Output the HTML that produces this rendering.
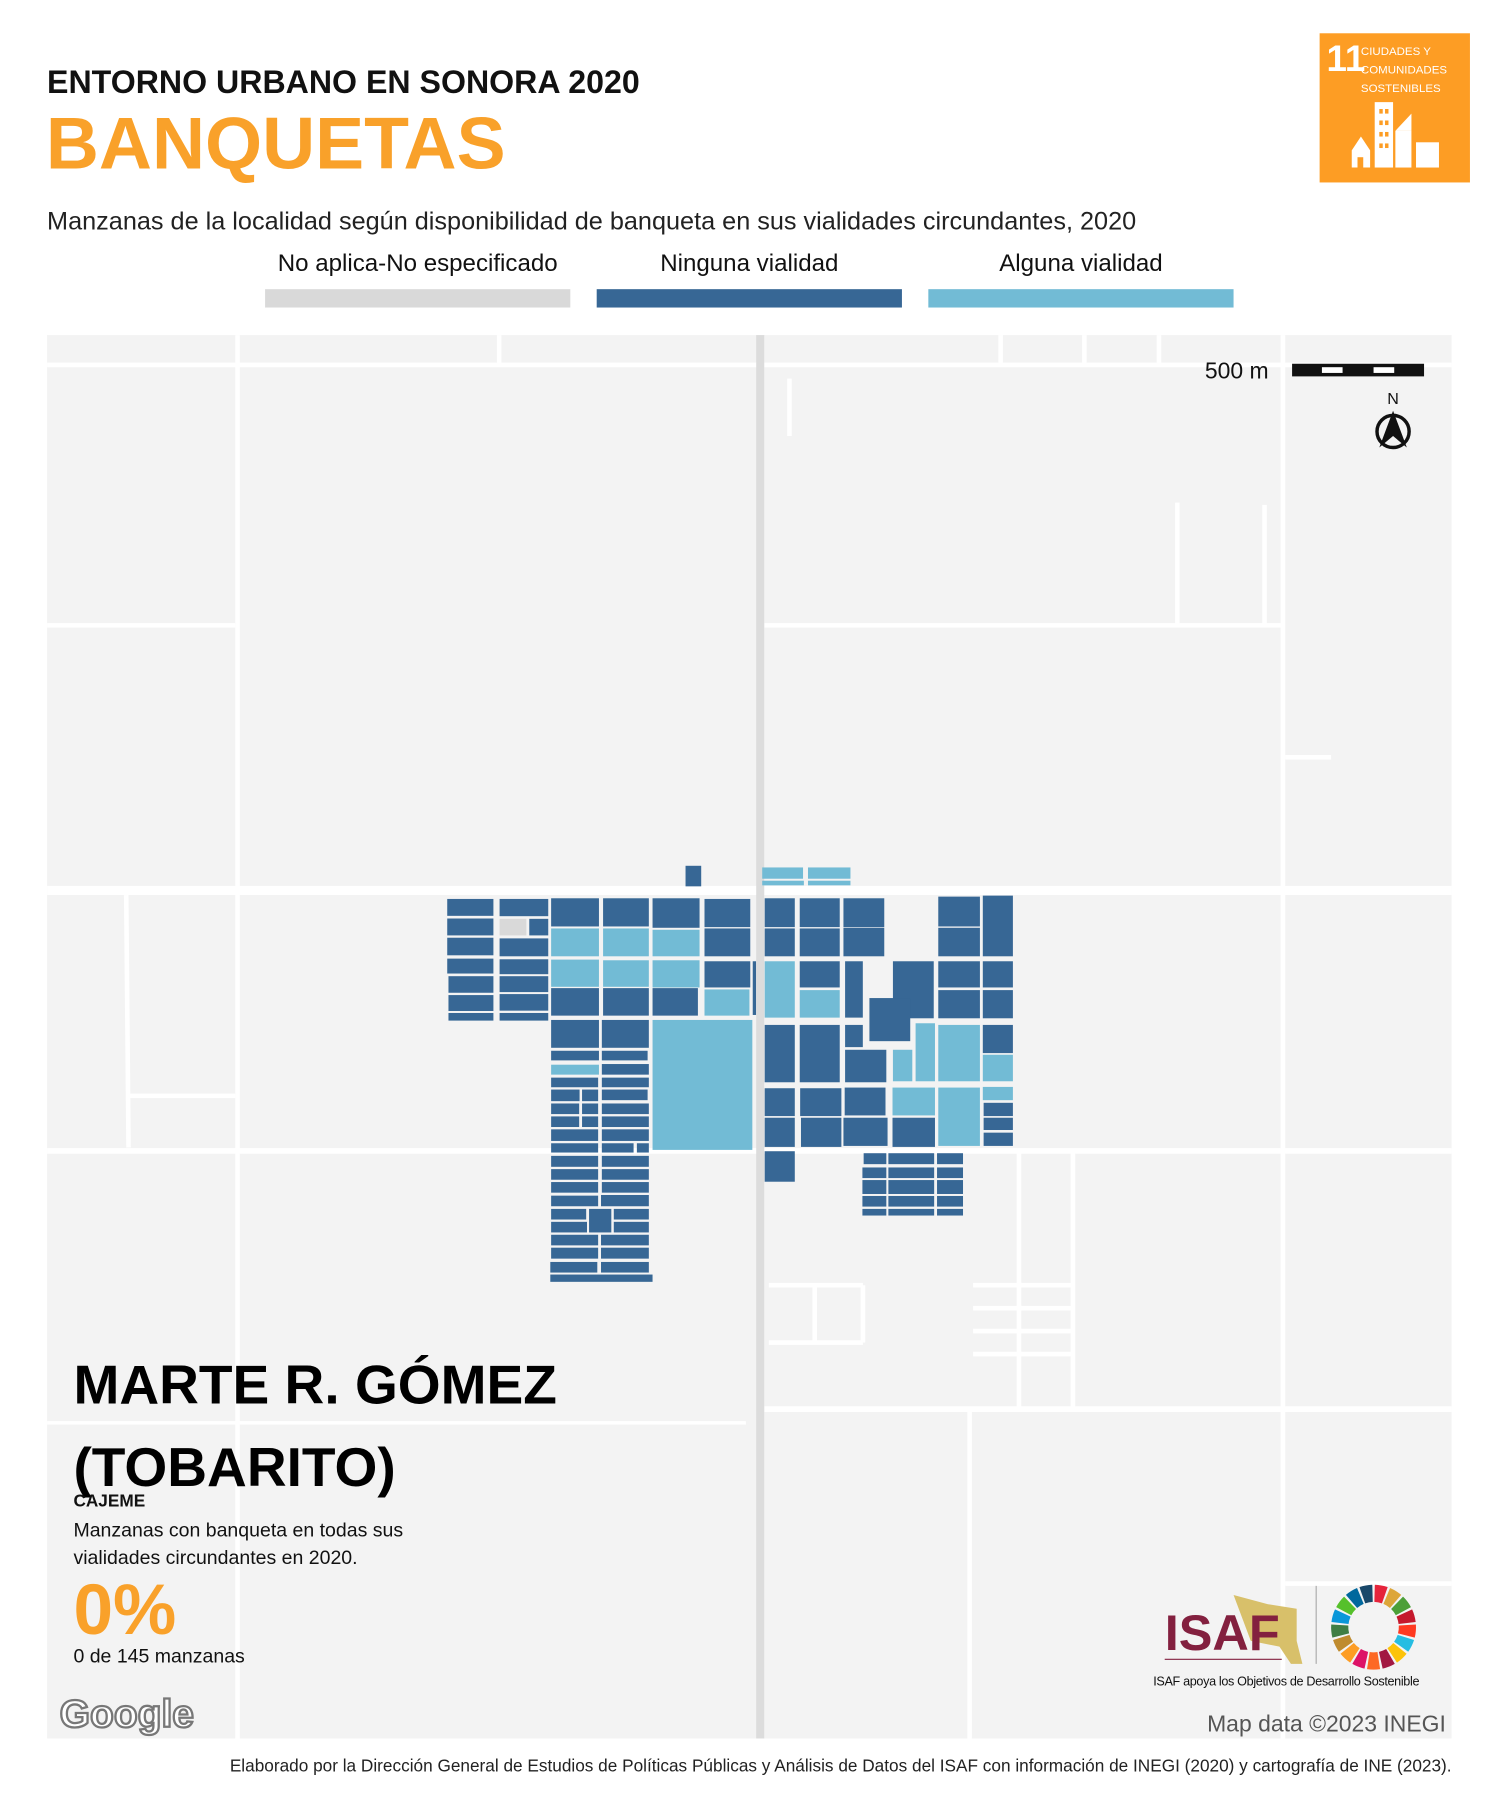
<!DOCTYPE html>
<html><head><meta charset="utf-8"><style>
html,body{margin:0;padding:0;background:#fff;overflow:hidden}
#page{position:absolute;left:0;top:0;width:1300px;height:1560px;transform:scale(1.1475);transform-origin:0 0;font-family:"Liberation Sans",sans-serif}
.t{position:absolute;white-space:nowrap}
</style></head><body>
<div id="page">
<div class="t" style="left:41px;top:56px;font-size:28px;font-weight:900;letter-spacing:0px;color:#111">ENTORNO URBANO EN SONORA 2020</div>
<div class="t" style="left:40px;top:88px;font-size:64px;font-weight:900;color:#f9a12a;letter-spacing:0px">BANQUETAS</div>
<div class="t" style="left:41px;top:180px;font-size:22px;color:#222;letter-spacing:0px">Manzanas de la localidad según disponibilidad de banqueta en sus vialidades circundantes, 2020</div>
<div style="position:absolute;left:1150px;top:29px;width:131px;height:130px;background:#fd9d24">
 <div class="t" style="left:6px;top:4px;color:#fff;font-size:32px;font-weight:bold;font-family:'Liberation Sans Narrow','Liberation Sans',sans-serif">11</div>
 <div class="t" style="left:36px;top:9px;color:#fff;font-size:10px;line-height:16px;font-family:'Liberation Sans Narrow','Liberation Sans',sans-serif">CIUDADES Y<br>COMUNIDADES<br>SOSTENIBLES</div>
 <svg style="position:absolute;left:0;top:0" width="131" height="130"><g fill="#fff"><rect x="48" y="60" width="16" height="57"/><rect x="66" y="85" width="14" height="32"/><path d="M66 85 L80 70 L80 85Z"/><rect x="84" y="95" width="20" height="22"/><path d="M28 117 V102 L36 90 L44 102 V117Z"/></g><g fill="#fd9d24"><rect x="52" y="66" width="3" height="4"/><rect x="57" y="66" width="3" height="4"/><rect x="52" y="76" width="3" height="4"/><rect x="57" y="76" width="3" height="4"/><rect x="52" y="86" width="3" height="4"/><rect x="57" y="86" width="3" height="4"/><rect x="52" y="96" width="3" height="4"/><rect x="57" y="96" width="3" height="4"/><rect x="33" y="108" width="5" height="9"/></g></svg>
</div>
<div class="t" style="left:231px;width:266px;text-align:center;top:218px;font-size:21px;font-family:'Liberation Sans Narrow','Liberation Sans',sans-serif;color:#111">No aplica-No especificado</div>
<div class="t" style="left:520px;width:266px;text-align:center;top:218px;font-size:21px;font-family:'Liberation Sans Narrow','Liberation Sans',sans-serif;color:#111">Ninguna vialidad</div>
<div class="t" style="left:809px;width:266px;text-align:center;top:218px;font-size:21px;font-family:'Liberation Sans Narrow','Liberation Sans',sans-serif;color:#111">Alguna vialidad</div>
<div style="position:absolute;left:231px;top:252px;width:266px;height:16px;background:#d9d9d9"></div>
<div style="position:absolute;left:520px;top:252px;width:266px;height:16px;background:#376795"></div>
<div style="position:absolute;left:809px;top:252px;width:266px;height:16px;background:#72bbd5"></div>

<svg id="map" style="position:absolute;left:0;top:0" width="1300" height="1560">
 <rect x="41" y="292" width="1224" height="1223" fill="#f3f3f3"/>
 <g id="roads" stroke="#fff" fill="none" stroke-width="4">
  <line x1="41" y1="776" x2="1265" y2="776" stroke-width="8"/>
  <line x1="41" y1="1003" x2="1265" y2="1003" stroke-width="5"/>
  <line x1="666" y1="1228" x2="1265" y2="1228" stroke-width="5"/>
  <line x1="41" y1="1240" x2="650" y2="1240" stroke-width="3"/>
  <line x1="41" y1="318" x2="1265" y2="318" stroke-width="4"/>
  <line x1="207" y1="292" x2="207" y2="1515"/>
  <line x1="1118" y1="292" x2="1118" y2="1515"/>
  <line x1="41" y1="545" x2="205" y2="545"/>
  <line x1="666" y1="545" x2="1118" y2="545"/>
  <line x1="1120" y1="660" x2="1160" y2="660"/>
  <line x1="110" y1="780" x2="112" y2="1000"/>
  <line x1="112" y1="955" x2="205" y2="955"/>
  <line x1="1026" y1="438" x2="1026" y2="545"/>
  <line x1="1102" y1="440" x2="1102" y2="545"/>
  <line x1="845" y1="1228" x2="845" y2="1515"/>
  <line x1="1120" y1="1380" x2="1265" y2="1380"/>
  <line x1="435" y1="292" x2="435" y2="318"/>
  <line x1="945" y1="292" x2="945" y2="318"/>
  <line x1="1010" y1="292" x2="1010" y2="318"/>
  <line x1="872" y1="292" x2="872" y2="318"/>
  <line x1="888" y1="1003" x2="888" y2="1228"/>
  <line x1="935" y1="1003" x2="935" y2="1228"/>
  <line x1="848" y1="1120" x2="935" y2="1120"/>
  <line x1="848" y1="1140" x2="935" y2="1140"/>
  <line x1="848" y1="1160" x2="935" y2="1160"/>
  <line x1="848" y1="1180" x2="935" y2="1180"/>
  <line x1="670" y1="1120" x2="752" y2="1120"/>
  <line x1="670" y1="1170" x2="752" y2="1170"/>
  <line x1="752" y1="1120" x2="752" y2="1170"/>
  <line x1="710" y1="1120" x2="710" y2="1170"/>
  <line x1="688" y1="330" x2="688" y2="380"/>
 </g>
 <rect x="659" y="292" width="7" height="1223" fill="#dcdcdc"/>
 <g id="blocks" transform="translate(349.5,741.5) scale(0.3593,0.2889)"></g>
 <g>
  <text x="1050" y="330" font-size="20" fill="#111">500 m</text>
  <rect x="1126" y="317" width="115" height="11" fill="#111"/>
  <rect x="1152" y="320" width="18" height="5" fill="#fff"/>
  <rect x="1197" y="320" width="18" height="5" fill="#fff"/>
 </g>
 <g>
  <text x="1214" y="352" font-size="14" text-anchor="middle" fill="#111">N</text>
  <circle cx="1214" cy="376" r="14" fill="none" stroke="#111" stroke-width="3"/>
  <path d="M1214 358 L1202 390 L1214 380 L1226 390Z" fill="#111"/>
 </g>
 <text x="1260" y="1509" font-size="20" fill="#555" text-anchor="end">Map data ©2023 INEGI</text>
 <text x="52" y="1505" font-size="34" font-weight="bold" fill="#fff" stroke="#777" stroke-width="2">Google</text>
</svg>

<div class="t" style="left:64px;top:1172px;font-size:48px;font-weight:900;color:#000;line-height:72px">MARTE R. GÓMEZ<br>(TOBARITO)</div>
<div class="t" style="left:64px;top:1300px;font-size:15px;font-weight:bold;color:#111">CAJEME</div>
<div class="t" style="left:64px;top:1322px;font-size:17px;line-height:24px;color:#111">Manzanas con banqueta en todas sus<br>vialidades circundantes en 2020.</div>
<div class="t" style="left:64px;top:1368px;font-size:62px;font-weight:900;color:#f9a12a">0%</div>
<div class="t" style="left:64px;top:1434px;font-size:17px;color:#111">0 de 145 manzanas</div>

<div style="position:absolute;left:1005px;top:1380px;width:240px;height:95px">
 <svg width="240" height="95"><path d="M70 10 L100 18 L125 22 L125 50 L130 70 L120 70 L110 55 L85 50Z" fill="#d8c06a"/>
 <text x="10" y="58" font-size="44" font-weight="bold" fill="#83203f">ISAF</text>
 <line x1="10" y1="66" x2="112" y2="66" stroke="#83203f"/>
 <line x1="142" y1="2" x2="142" y2="70" stroke="#aaa"/>
 <g id="sdgwheel"></g></svg>
</div>
<div class="t" style="left:1005px;top:1460px;font-size:11px;color:#111;letter-spacing:-0.3px">ISAF apoya los Objetivos de Desarrollo Sostenible</div>
<div class="t" style="right:35px;top:1531px;font-size:15px;color:#222;letter-spacing:0px">Elaborado por la Dirección General de Estudios de Políticas Públicas y Análisis de Datos del ISAF con información de INEGI (2020) y cartografía de INE (2023).</div>
</div>
<script>
// block categories: n = Ninguna vialidad, a = Alguna vialidad, g = No aplica
const categories = ["g","n","a"];
const catColors = {g:"#d9d9d9", n:"#376795", a:"#72bbd5"};
const blockGeom = [
[690,45,728,107,"n"],[876,50,975,84,"a"],[987,50,1090,84,"a"],[876,90,977,104,"a"],[987,90,1090,104,"a"],
[112,145,224,196,"n"],[112,204,224,255,"n"],[112,262,224,315,"n"],[112,325,224,370,"n"],[115,378,224,428,"n"],[115,435,224,483,"n"],[115,489,224,512,"n"],
[239,145,357,197,"n"],[239,205,304,255,"g"],[311,205,357,255,"n"],[239,264,357,318,"n"],[239,327,357,372,"n"],[239,378,357,426,"n"],[239,432,357,482,"n"],[239,489,357,512,"n"],
[364,143,480,228,"n"],[490,143,601,228,"n"],[610,143,724,232,"n"],[736,145,847,230,"n"],
[364,234,480,318,"a"],[490,234,601,318,"a"],[610,238,724,318,"a"],[736,234,847,318,"n"],
[364,328,480,410,"a"],[490,330,601,410,"a"],[610,330,724,412,"a"],[736,333,847,412,"n"],[853,333,861,495,"n"],
[364,414,480,497,"n"],[490,414,601,497,"n"],[610,414,720,497,"n"],[736,418,845,497,"a"],
[610,510,852,902,"a"],
[364,510,480,594,"n"],[487,510,601,594,"n"],[364,603,480,632,"n"],[487,603,598,632,"n"],
[364,645,480,675,"a"],[487,643,601,675,"n"],[364,684,478,713,"n"],[487,684,601,713,"n"],
[364,720,433,755,"n"],[439,720,478,755,"n"],[487,720,598,752,"n"],
[364,762,432,794,"n"],[439,762,478,794,"n"],[487,762,601,794,"n"],
[364,801,432,833,"n"],[439,801,478,833,"n"],[487,801,601,833,"n"],
[364,840,478,875,"n"],[487,840,601,875,"n"],
[364,882,478,910,"n"],[487,882,564,910,"n"],[572,882,601,910,"n"],
[364,920,478,953,"n"],[487,920,601,953,"n"],[364,960,478,992,"n"],[487,960,601,992,"n"],
[364,999,478,1031,"n"],[487,999,601,1031,"n"],[364,1040,478,1072,"n"],[485,1038,601,1072,"n"],
[364,1080,449,1112,"n"],[456,1080,510,1151,"n"],[516,1080,601,1112,"n"],
[364,1119,451,1151,"n"],[516,1119,601,1151,"n"],
[364,1158,478,1190,"n"],[485,1158,601,1190,"n"],[364,1197,478,1230,"n"],[485,1197,601,1230,"n"],
[362,1240,476,1272,"n"],[485,1240,601,1272,"n"],[362,1278,610,1300,"n"],
[882,143,955,230,"n"],[967,143,1064,230,"n"],[1073,143,1172,230,"n"],[1303,138,1404,228,"n"],[1411,135,1484,318,"n"],
[882,234,955,318,"n"],[967,234,1064,318,"n"],[1073,232,1172,318,"n"],[1303,232,1404,318,"n"],
[882,333,955,503,"a"],[967,333,1064,412,"n"],[1077,333,1120,503,"n"],[1193,333,1292,505,"n"],[1303,333,1404,412,"n"],[1411,333,1484,412,"n"],
[967,420,1064,503,"a"],[1303,420,1404,505,"n"],[1411,420,1484,505,"n"],
[1136,444,1235,574,"n"],
[882,525,955,698,"n"],[967,525,1064,698,"n"],[1077,525,1120,592,"n"],[1077,600,1177,698,"n"],[1248,520,1295,695,"a"],[1193,600,1240,695,"a"],[1303,525,1404,695,"a"],[1411,525,1484,610,"n"],[1411,615,1484,695,"a"],
[882,716,955,800,"n"],[968,716,1068,800,"n"],[1076,714,1175,798,"n"],[1192,714,1295,798,"a"],[1303,714,1404,890,"a"],[1411,712,1484,752,"a"],[1413,760,1484,800,"n"],
[882,805,955,893,"n"],[970,805,1068,893,"n"],[1073,805,1180,890,"n"],[1192,805,1295,893,"n"],[1413,805,1484,842,"n"],[1413,850,1484,890,"n"],
[882,906,955,998,"n"],
[1122,912,1177,945,"n"],[1182,912,1293,945,"n"],[1300,912,1363,945,"n"],
[1119,955,1177,987,"n"],[1182,955,1293,987,"n"],[1300,955,1363,987,"n"],
[1119,993,1177,1035,"n"],[1182,993,1293,1035,"n"],[1300,993,1363,1035,"n"],
[1119,1041,1177,1073,"n"],[1182,1041,1293,1073,"n"],[1300,1041,1363,1073,"n"],
[1119,1080,1177,1100,"n"],[1182,1080,1293,1100,"n"],[1300,1080,1363,1100,"n"]
];
const NS="http://www.w3.org/2000/svg";
const g=document.getElementById('blocks');
blockGeom.forEach((b,i)=>{
  const r=document.createElementNS(NS,'rect');
  r.setAttribute('x',b[0]);r.setAttribute('y',b[1]);
  r.setAttribute('width',b[2]-b[0]);r.setAttribute('height',b[3]-b[1]);
  r.setAttribute('fill',catColors[b[4]]);
  
  
  g.appendChild(r);
});
const wheelColors=["#e5243b","#dda63a","#4c9f38","#c5192d","#ff3a21","#26bde2","#fcc30b","#a21942","#fd6925","#dd1367","#fd9d24","#bf8b2e","#3f7e44","#0a97d9","#56c02b","#00689d","#19486a"];
const w=document.getElementById('sdgwheel');
const cx=192,cy=38,R1=22,R2=37;
wheelColors.forEach((c,i)=>{
  const a0=(i/17)*2*Math.PI-Math.PI/2+0.03,a1=((i+1)/17)*2*Math.PI-Math.PI/2-0.03;
  const p=document.createElementNS(NS,'path');
  const pt=(r,a)=>(cx+r*Math.cos(a)).toFixed(1)+' '+(cy+r*Math.sin(a)).toFixed(1);
  p.setAttribute('d','M'+pt(R1,a0)+' L'+pt(R2,a0)+' A'+R2+' '+R2+' 0 0 1 '+pt(R2,a1)+' L'+pt(R1,a1)+' A'+R1+' '+R1+' 0 0 0 '+pt(R1,a0)+'Z');
  p.setAttribute('fill',c);
  
  
  w.appendChild(p);
});
</script>
</body></html>
